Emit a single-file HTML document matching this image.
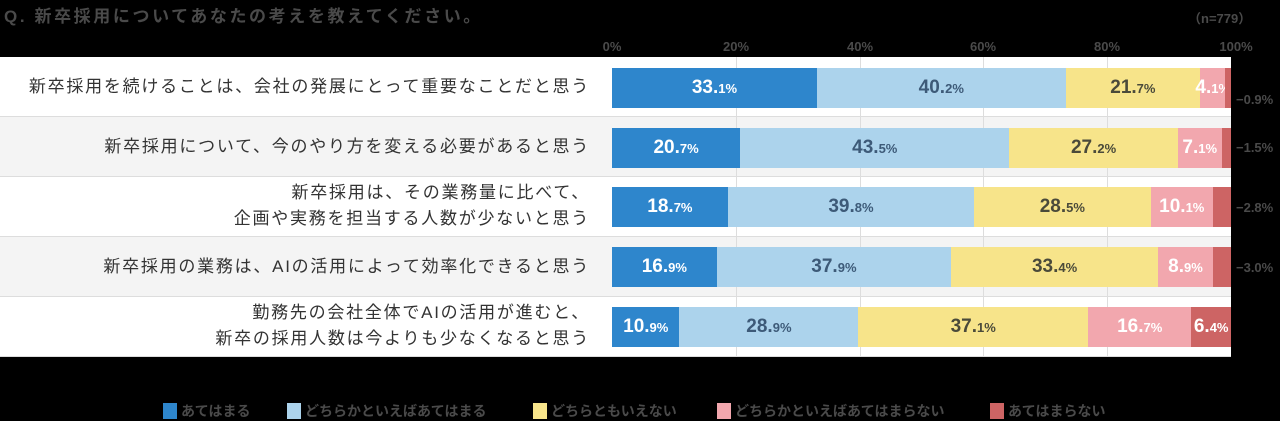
<!DOCTYPE html>
<html><head><meta charset="utf-8"><style>
body{margin:0;width:1280px;height:420px;background:#000;position:relative;overflow:hidden;font-family:"Liberation Sans","Noto Sans CJK JP",sans-serif;}
.abs{position:absolute;}
.title{left:4px;top:2px;font-size:17px;font-weight:bold;color:#4a4a4a;letter-spacing:2.6px;}
.n{left:1188px;top:8px;font-size:13px;font-weight:bold;color:#4a4a4a;}
.ax{top:39px;font-size:13px;font-weight:bold;color:#4a4a4a;width:60px;text-align:center;}
.row{left:0;width:1231px;height:60px;border-bottom:1px solid #ddd;box-sizing:border-box;}
.lab{right:690px;width:600px;text-align:right;font-size:17px;color:#333;line-height:26px;letter-spacing:1.75px;}
.grid{top:57px;height:300px;width:1px;background:#ddd;}
.bar{left:612px;width:619px;height:40px;display:flex;}
.bar div{height:40px;display:flex;align-items:center;justify-content:center;font-weight:bold;font-size:19px;white-space:nowrap;overflow:visible;}
.bar small{font-size:13px;}
.c1{background:#2e86cc;color:#fff}.c2{background:#acd3ec;color:#3d5a78}.c3{background:#f7e48a;color:#4a4a3a}.c4{background:#f2a7ae;color:#fff}.c5{background:#cd6464;color:#fff}
.out{left:1236px;font-size:13px;font-weight:bold;color:#4a4a4a;}
.lg{top:401px;font-size:14px;font-weight:bold;color:#4a4a4a;display:flex;align-items:center;}
.lg i{display:inline-block;width:14px;height:16px;margin-right:4px;}
</style></head><body>
<div class="abs title">Q. 新卒採用についてあなたの考えを教えてください。</div>
<div class="abs n">（n=779）</div>
<div class="abs ax" style="left:582px">0%</div>
<div class="abs ax" style="left:706px">20%</div>
<div class="abs ax" style="left:830px">40%</div>
<div class="abs ax" style="left:953px">60%</div>
<div class="abs ax" style="left:1077px">80%</div>
<div class="abs ax" style="left:1206px">100%</div>

<div class="abs row" style="top:57px;background:#fff"></div>
<div class="abs row" style="top:117px;background:#f4f4f4"></div>
<div class="abs row" style="top:177px;background:#fff"></div>
<div class="abs row" style="top:237px;background:#f4f4f4"></div>
<div class="abs row" style="top:297px;background:#fff"></div>

<div class="abs grid" style="left:736px"></div>
<div class="abs grid" style="left:860px"></div>
<div class="abs grid" style="left:983px"></div>
<div class="abs grid" style="left:1107px"></div>

<div class="abs lab" style="top:74px">新卒採用を続けることは、会社の発展にとって重要なことだと思う</div>
<div class="abs lab" style="top:134px">新卒採用について、今のやり方を変える必要があると思う</div>
<div class="abs lab" style="top:180px">新卒採用は、その業務量に比べて、<br>企画や実務を担当する人数が少ないと思う</div>
<div class="abs lab" style="top:254px">新卒採用の業務は、AIの活用によって効率化できると思う</div>
<div class="abs lab" style="top:300px">勤務先の会社全体でAIの活用が進むと、<br>新卒の採用人数は今よりも少なくなると思う</div>

<div class="abs bar" style="top:68px"><div class="c1" style="width:33.1%">33.<small>1%</small></div><div class="c2" style="width:40.2%">40.<small>2%</small></div><div class="c3" style="width:21.7%">21.<small>7%</small></div><div class="c4" style="width:4.1%">4.<small>1%</small></div><div class="c5" style="width:0.9%"></div></div>
<div class="abs bar" style="top:128px"><div class="c1" style="width:20.7%">20.<small>7%</small></div><div class="c2" style="width:43.5%">43.<small>5%</small></div><div class="c3" style="width:27.2%">27.<small>2%</small></div><div class="c4" style="width:7.1%">7.<small>1%</small></div><div class="c5" style="width:1.5%"></div></div>
<div class="abs bar" style="top:187px"><div class="c1" style="width:18.7%">18.<small>7%</small></div><div class="c2" style="width:39.8%">39.<small>8%</small></div><div class="c3" style="width:28.5%">28.<small>5%</small></div><div class="c4" style="width:10.1%">10.<small>1%</small></div><div class="c5" style="width:2.9%"></div></div>
<div class="abs bar" style="top:247px"><div class="c1" style="width:16.9%">16.<small>9%</small></div><div class="c2" style="width:37.9%">37.<small>9%</small></div><div class="c3" style="width:33.4%">33.<small>4%</small></div><div class="c4" style="width:8.9%">8.<small>9%</small></div><div class="c5" style="width:2.9%"></div></div>
<div class="abs bar" style="top:307px"><div class="c1" style="width:10.9%">10.<small>9%</small></div><div class="c2" style="width:28.9%">28.<small>9%</small></div><div class="c3" style="width:37.1%">37.<small>1%</small></div><div class="c4" style="width:16.7%">16.<small>7%</small></div><div class="c5" style="width:6.4%">6.<small>4%</small></div></div>

<div class="abs out" style="top:92px">−0.9%</div>
<div class="abs out" style="top:140px">−1.5%</div>
<div class="abs out" style="top:200px">−2.8%</div>
<div class="abs out" style="top:260px">−3.0%</div>

<div class="abs lg" style="left:163px"><i style="background:#2e86cc"></i>あてはまる</div>
<div class="abs lg" style="left:287px"><i style="background:#acd3ec"></i>どちらかといえばあてはまる</div>
<div class="abs lg" style="left:533px"><i style="background:#f7e48a"></i>どちらともいえない</div>
<div class="abs lg" style="left:717px"><i style="background:#f2a7ae"></i>どちらかといえばあてはまらない</div>
<div class="abs lg" style="left:990px"><i style="background:#cd6464"></i>あてはまらない</div>
</body></html>
